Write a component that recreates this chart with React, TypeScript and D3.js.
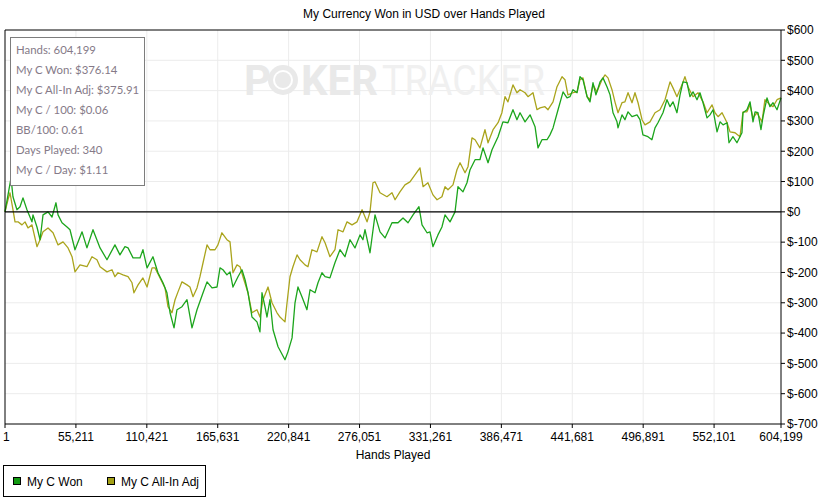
import { useEffect } from 'react';
import * as d3 from 'd3';

const width = 828;
const height = 500;
const marginLeft = 5;
const marginRight = 47;
const marginTop = 30;
const marginBottom = 76;

// hands played (thousands) and cumulative dollars
const wonHands = [
  0, 4.7, 6.2, 9.3, 11.7, 14.0, 17.1, 21.0, 21.8, 24.9, 27.3, 29.6, 33.5, 36.6, 39.7, 41.3, 44.4, 48.3, 50.6,
  54.5, 60.0, 63.8, 68.5, 74.0, 79.4, 85.6, 89.5, 93.4, 95.8, 99.7, 105.1, 107.4, 110.6, 115.2, 119.1, 123.0,
  126.1, 128.5, 131.6, 133.9, 137.8, 141.7, 145.6, 149.5, 154.2, 157.3, 161.2, 165.1, 167.4, 169.7, 172.8,
  175.2, 177.5, 181.4, 184.5, 186.9, 189.2, 192.3, 196.2, 198.5, 200.1, 202.4, 204.0, 206.3, 208.7, 212.6,
  218.0, 220.3, 223.5, 225.8, 228.1, 231.2, 235.1, 237.5, 241.4, 243.7, 246.8, 249.2, 253.0, 256.9, 260.8,
  264.7, 268.6, 272.5, 276.4, 278.7, 280.3, 284.2, 288.1, 292.0, 295.9, 299.8, 301.3, 306.0, 309.9, 313.8,
  317.7, 322.3, 324.7, 328.6, 330.9, 333.2, 337.1, 340.2, 342.6, 346.5, 350.4, 352.7, 356.6, 359.7, 362.1,
  366.0, 369.8, 372.2, 376.1, 379.2, 383.9, 387.7, 391.6, 395.5, 398.6, 401.0, 404.9, 408.8, 412.7, 415.0,
  418.1, 422.0, 424.3, 426.7, 430.6, 434.5, 437.6, 439.9, 442.2, 445.4, 447.7, 450.0, 453.2, 455.5, 457.8,
  460.1, 463.3, 465.6, 468.7, 471.1, 473.4, 476.5, 477.3, 480.4, 482.7, 485.1, 488.2, 492.1, 494.4, 496.7,
  500.6, 503.7, 506.1, 508.4, 512.3, 515.4, 517.8, 520.1, 523.2, 525.6, 527.9, 531.0, 533.3, 535.7, 538.8,
  541.1, 543.5, 546.6, 548.9, 551.3, 554.4, 556.7, 559.1, 562.2, 563.7, 566.8, 569.9, 573.8, 574.6, 577.7,
  580.1, 582.4, 584.0, 586.3, 588.6, 590.2, 593.3, 595.6, 598.0, 601.1, 604.2,
];
const wonValues = [
  0, 112, 50, 7, 17, 46, 7, -33, -10, -50, -92, -10, 0, -17, 30, -10, -36, -50, -59,
  -125, -66, -119, -59, -119, -158, -109, -142, -115, -119, -152, -152, -125, -185, -148, -201, -234,
  -267, -333, -383, -323, -313, -290, -383, -323, -267, -231, -251, -248, -185, -191, -208,
  -198, -248, -214, -191, -224, -267, -347, -363, -396, -267, -313, -347, -290, -389, -445,
  -488, -462, -416, -300, -248, -280, -323, -257, -267, -234, -201, -214, -218, -168, -125,
  -148, -92, -119, -76, -92, -59, -135, -10, -66, -86, -50, -36, -36, -20, -36,
  -10, 17, -43, -69, -66, -115, -76, -50, -10, -33, 0, 83, 66, 96, 139,
  172, 172, 211, 162, 205, 248, 297, 294, 337, 304, 327, 297, 320, 281, 211,
  238, 238, 254, 277, 337, 396, 376, 380, 403, 393, 446, 436, 380, 363, 426,
  386, 429, 442, 413, 386, 327, 297, 277, 320, 304, 330, 314, 320, 304, 254,
  248, 238, 277, 294, 327, 370, 347, 363, 327, 386, 429, 426, 380, 396, 370,
  393, 360, 310, 320, 337, 264, 297, 287, 294, 228, 248, 228, 261, 327, 337,
  363, 297, 330, 327, 271, 314, 376, 347, 360, 337, 376.14,
];

const adjHands = [
  0, 2.3, 3.9, 6.2, 7.8, 10.1, 13.2, 15.6, 17.9, 21.0, 24.9, 27.3, 29.6, 33.5, 37.4, 41.3, 45.2, 49.1, 52.2,
  54.5, 58.4, 63.8, 67.7, 71.6, 74.0, 79.4, 83.3, 85.6, 88.0, 91.9, 95.8, 98.9, 100.4, 103.6, 107.4, 110.6,
  114.5, 116.8, 120.7, 124.6, 126.9, 130.0, 132.4, 134.7, 137.8, 141.7, 144.0, 146.4, 149.5, 151.8, 154.2,
  157.3, 159.6, 163.5, 165.8, 168.9, 172.8, 175.2, 177.5, 180.6, 183.0, 185.3, 189.2, 192.3, 196.2, 198.5,
  200.9, 204.8, 207.9, 211.8, 214.1, 218.0, 219.6, 221.9, 224.2, 227.4, 229.7, 233.6, 235.9, 239.0, 242.9,
  246.8, 249.2, 253.0, 256.9, 259.3, 263.2, 266.3, 270.2, 274.1, 278.0, 281.9, 284.2, 286.5, 288.1, 292.0,
  297.4, 301.3, 303.7, 307.5, 311.4, 315.3, 319.2, 323.1, 325.5, 329.3, 333.2, 336.4, 340.2, 342.6, 344.9,
  348.8, 351.9, 354.3, 358.2, 360.5, 363.6, 366.0, 369.8, 373.7, 376.1, 380.0, 383.9, 386.9, 389.3, 391.6,
  395.5, 398.6, 401.0, 404.9, 407.2, 411.1, 414.2, 416.6, 420.4, 422.8, 426.7, 429.8, 433.7, 436.0, 438.3,
  442.2, 445.4, 447.7, 450.0, 453.2, 455.5, 457.8, 460.9, 464.8, 467.2, 469.5, 472.6, 474.9, 477.3, 480.4,
  482.7, 485.1, 488.2, 490.5, 492.9, 496.0, 498.3, 502.2, 506.1, 510.0, 513.9, 517.8, 520.1, 523.2, 527.1,
  529.4, 531.8, 535.7, 539.6, 543.5, 546.6, 550.5, 552.8, 555.2, 558.3, 562.2, 564.5, 568.4, 572.3, 574.6,
  577.7, 580.1, 582.4, 585.5, 589.4, 591.7, 595.6, 598.0, 601.1, 604.2,
];
const adjValues = [
  0, 40, 63, 7, -33, -33, -43, -33, -53, -43, -115, -92, -66, -53, -69, -109, -99, -119, -148,
  -198, -175, -181, -148, -158, -181, -198, -191, -214, -201, -208, -214, -234, -267, -241, -218, -248,
  -185, -185, -218, -251, -313, -333, -290, -264, -231, -241, -248, -280, -251, -214, -168,
  -109, -125, -125, -109, -69, -92, -99, -201, -175, -181, -214, -267, -333, -323, -347,
  -290, -248, -300, -333, -347, -363, -300, -214, -181, -142, -158, -175, -181, -125, -132,
  -82, -102, -148, -125, -59, -66, -33, -43, -33, 7, -33, 0, 96, 99, 63,
  50, 63, 40, 66, 89, 99, 122, 145, 83, 96, 56, 40, 50, 83, 73,
  89, 139, 162, 129, 149, 244, 238, 211, 271, 228, 271, 294, 327, 380, 363,
  419, 393, 403, 393, 380, 393, 337, 343, 347, 337, 363, 413, 446, 436, 386,
  393, 396, 436, 442, 380, 370, 419, 396, 436, 452, 442, 403, 363, 327, 360,
  363, 393, 360, 393, 360, 304, 287, 297, 327, 337, 370, 429, 409, 380, 419,
  446, 413, 380, 393, 363, 327, 353, 327, 314, 327, 294, 264, 261, 248, 330,
  330, 353, 310, 327, 297, 370, 353, 347, 370, 375.91,
];

const xTicks = [1, 55211, 110421, 165631, 220841, 276051, 331261, 386471, 441681, 496891, 552101, 604199];
const yTicks = [600, 500, 400, 300, 200, 100, 0, -100, -200, -300, -400, -500, -600, -700];

const seriesNames = ['My C Won', 'My C All-In Adj'];
const lineColors = ['#1ca51c', '#aaa41c'];
const swatchColors = ['#119a11', '#a3a016'];

const statLines = [
  'Hands: 604,199',
  'My C Won: $376.14',
  'My C All-In Adj: $375.91',
  'My C / 100: $0.06',
  'BB/100: 0.61',
  'Days Played: 340',
  'My C / Day: $1.11',
];

const axisFont = '"Liberation Sans", Arial, sans-serif';

function toPoints(hands: number[], values: number[]) {
  return hands.map((h, i) => ({
    hand: Math.min(604199, Math.max(1, Math.round(h * 1000))),
    value: values[i],
  }));
}

const App = () => {
  useEffect(() => {
    document.body.style.margin = '0';
  }, []);

  const x = d3
    .scaleLinear()
    .domain([1, 604199])
    .range([marginLeft, width - marginRight]);
  const y = d3
    .scaleLinear()
    .domain([-700, 600])
    .range([height - marginBottom, marginTop]);

  const line = d3
    .line<{ hand: number; value: number }>()
    .x((d) => x(d.hand))
    .y((d) => y(d.value));

  const series = [toPoints(wonHands, wonValues), toPoints(adjHands, adjValues)];

  const x0 = x.range()[0];
  const x1 = x.range()[1];
  const yTop = y.range()[1];
  const yBot = y.range()[0];

  return (
    <svg width={width} height={height} style={{ display: 'block', background: '#fff' }}>
      {/* title */}
      <text x={424} y={18} textAnchor="middle" fontFamily={axisFont} fontSize={12} fill="#000">
        My Currency Won in USD over Hands Played
      </text>

      {/* grid */}
      <g stroke="#ececec" strokeWidth={1}>
        {xTicks.slice(1, -1).map((t) => (
          <line key={t} x1={x(t)} x2={x(t)} y1={yTop} y2={yBot} />
        ))}
        {yTicks.slice(1, -1).map((t) => (
          <line key={t} x1={x0} x2={x1} y1={y(t)} y2={y(t)} />
        ))}
      </g>

      {/* watermark */}
      <g>
        <text x={244} y={95} fontFamily="Roboto, sans-serif" fontWeight={700} fontSize={42} fill="#e9e9e9">
          P
        </text>
        <circle cx={283} cy={80} r={15} fill="#e9e9e9" />
        <circle cx={283} cy={80} r={10} fill="#fff" />
        <circle cx={283} cy={80} r={8} fill="#e9e9e9" />
        <text
          x={301}
          y={95}
          fontFamily="Roboto, sans-serif"
          fontWeight={700}
          fontSize={42}
          fill="#e9e9e9"
          textLength={77}
          lengthAdjust="spacingAndGlyphs"
        >
          KER
        </text>
        <text
          x={382}
          y={95}
          fontFamily="Roboto, sans-serif"
          fontWeight={400}
          fontSize={42}
          fill="#f0f0f0"
          textLength={163}
          lengthAdjust="spacingAndGlyphs"
        >
          TRACKER
        </text>
      </g>

      {/* series */}
      {[1, 0].map((i) => (
        <path
          key={i}
          d={line(series[i]) || ''}
          fill="none"
          stroke={lineColors[i]}
          strokeWidth={1.3}
          strokeLinejoin="round"
        />
      ))}

      {/* zero line */}
      <line x1={x0} x2={x1} y1={y(0)} y2={y(0)} stroke="#000" strokeWidth={1.3} />

      {/* frame */}
      <line x1={x0} x2={x1} y1={yTop} y2={yTop} stroke="#000" />
      <line x1={x0} x2={x0} y1={yTop} y2={yBot} stroke="#000" />

      {/* right axis */}
      <g fontFamily={axisFont} fontSize={12} fill="#000">
        <line x1={x1} x2={x1} y1={yTop} y2={yBot} stroke="#000" />
        {yTicks.map((t) => (
          <g key={t}>
            <line x1={x1} x2={x1 + 4} y1={y(t)} y2={y(t)} stroke="#000" />
            <text x={x1 + 6} y={y(t)} dy="0.36em">
              {t < 0 ? `$-${Math.abs(t)}` : `$${t}`}
            </text>
          </g>
        ))}
      </g>

      {/* bottom axis */}
      <g fontFamily={axisFont} fontSize={12} fill="#000">
        <line x1={x0} x2={x1} y1={yBot} y2={yBot} stroke="#000" />
        {xTicks.map((t) => (
          <g key={t}>
            <line x1={x(t)} x2={x(t)} y1={yBot} y2={yBot + 4} stroke="#000" />
            <text x={x(t)} y={yBot + 17} textAnchor={t === 1 ? 'start' : 'middle'} dx={t === 1 ? -2 : 0}>
              {d3.format(',')(t)}
            </text>
          </g>
        ))}
        <text x={(x0 + x1) / 2} y={yBot + 35} textAnchor="middle">
          Hands Played
        </text>
      </g>

      {/* stats box */}
      <g>
        <rect x={10.5} y={37.5} width={134} height={148} fill="#fff" stroke="#7d7d7d" />
        {statLines.map((s, i) => (
          <text
            key={s}
            x={16}
            y={54 + i * 20}
            fontFamily="Lato, 'Noto Sans', sans-serif"
            fontSize={11.4}
            fill="#857a88"
          >
            {s}
          </text>
        ))}
      </g>

      {/* legend */}
      <g fontFamily={axisFont} fontSize={12}>
        <rect x={3.5} y={465.5} width={202} height={31} fill="#fff" stroke="#000" />
        {seriesNames.map((name, i) => (
          <g key={name} transform={`translate(${i === 0 ? 13 : 107},477)`}>
            <rect x={0.5} y={0.5} width={7} height={7} fill={swatchColors[i]} stroke="#000" />
            <text x={14} y={8.5} fill="#000">
              {name}
            </text>
          </g>
        ))}
      </g>
    </svg>
  );
};

export default App;
